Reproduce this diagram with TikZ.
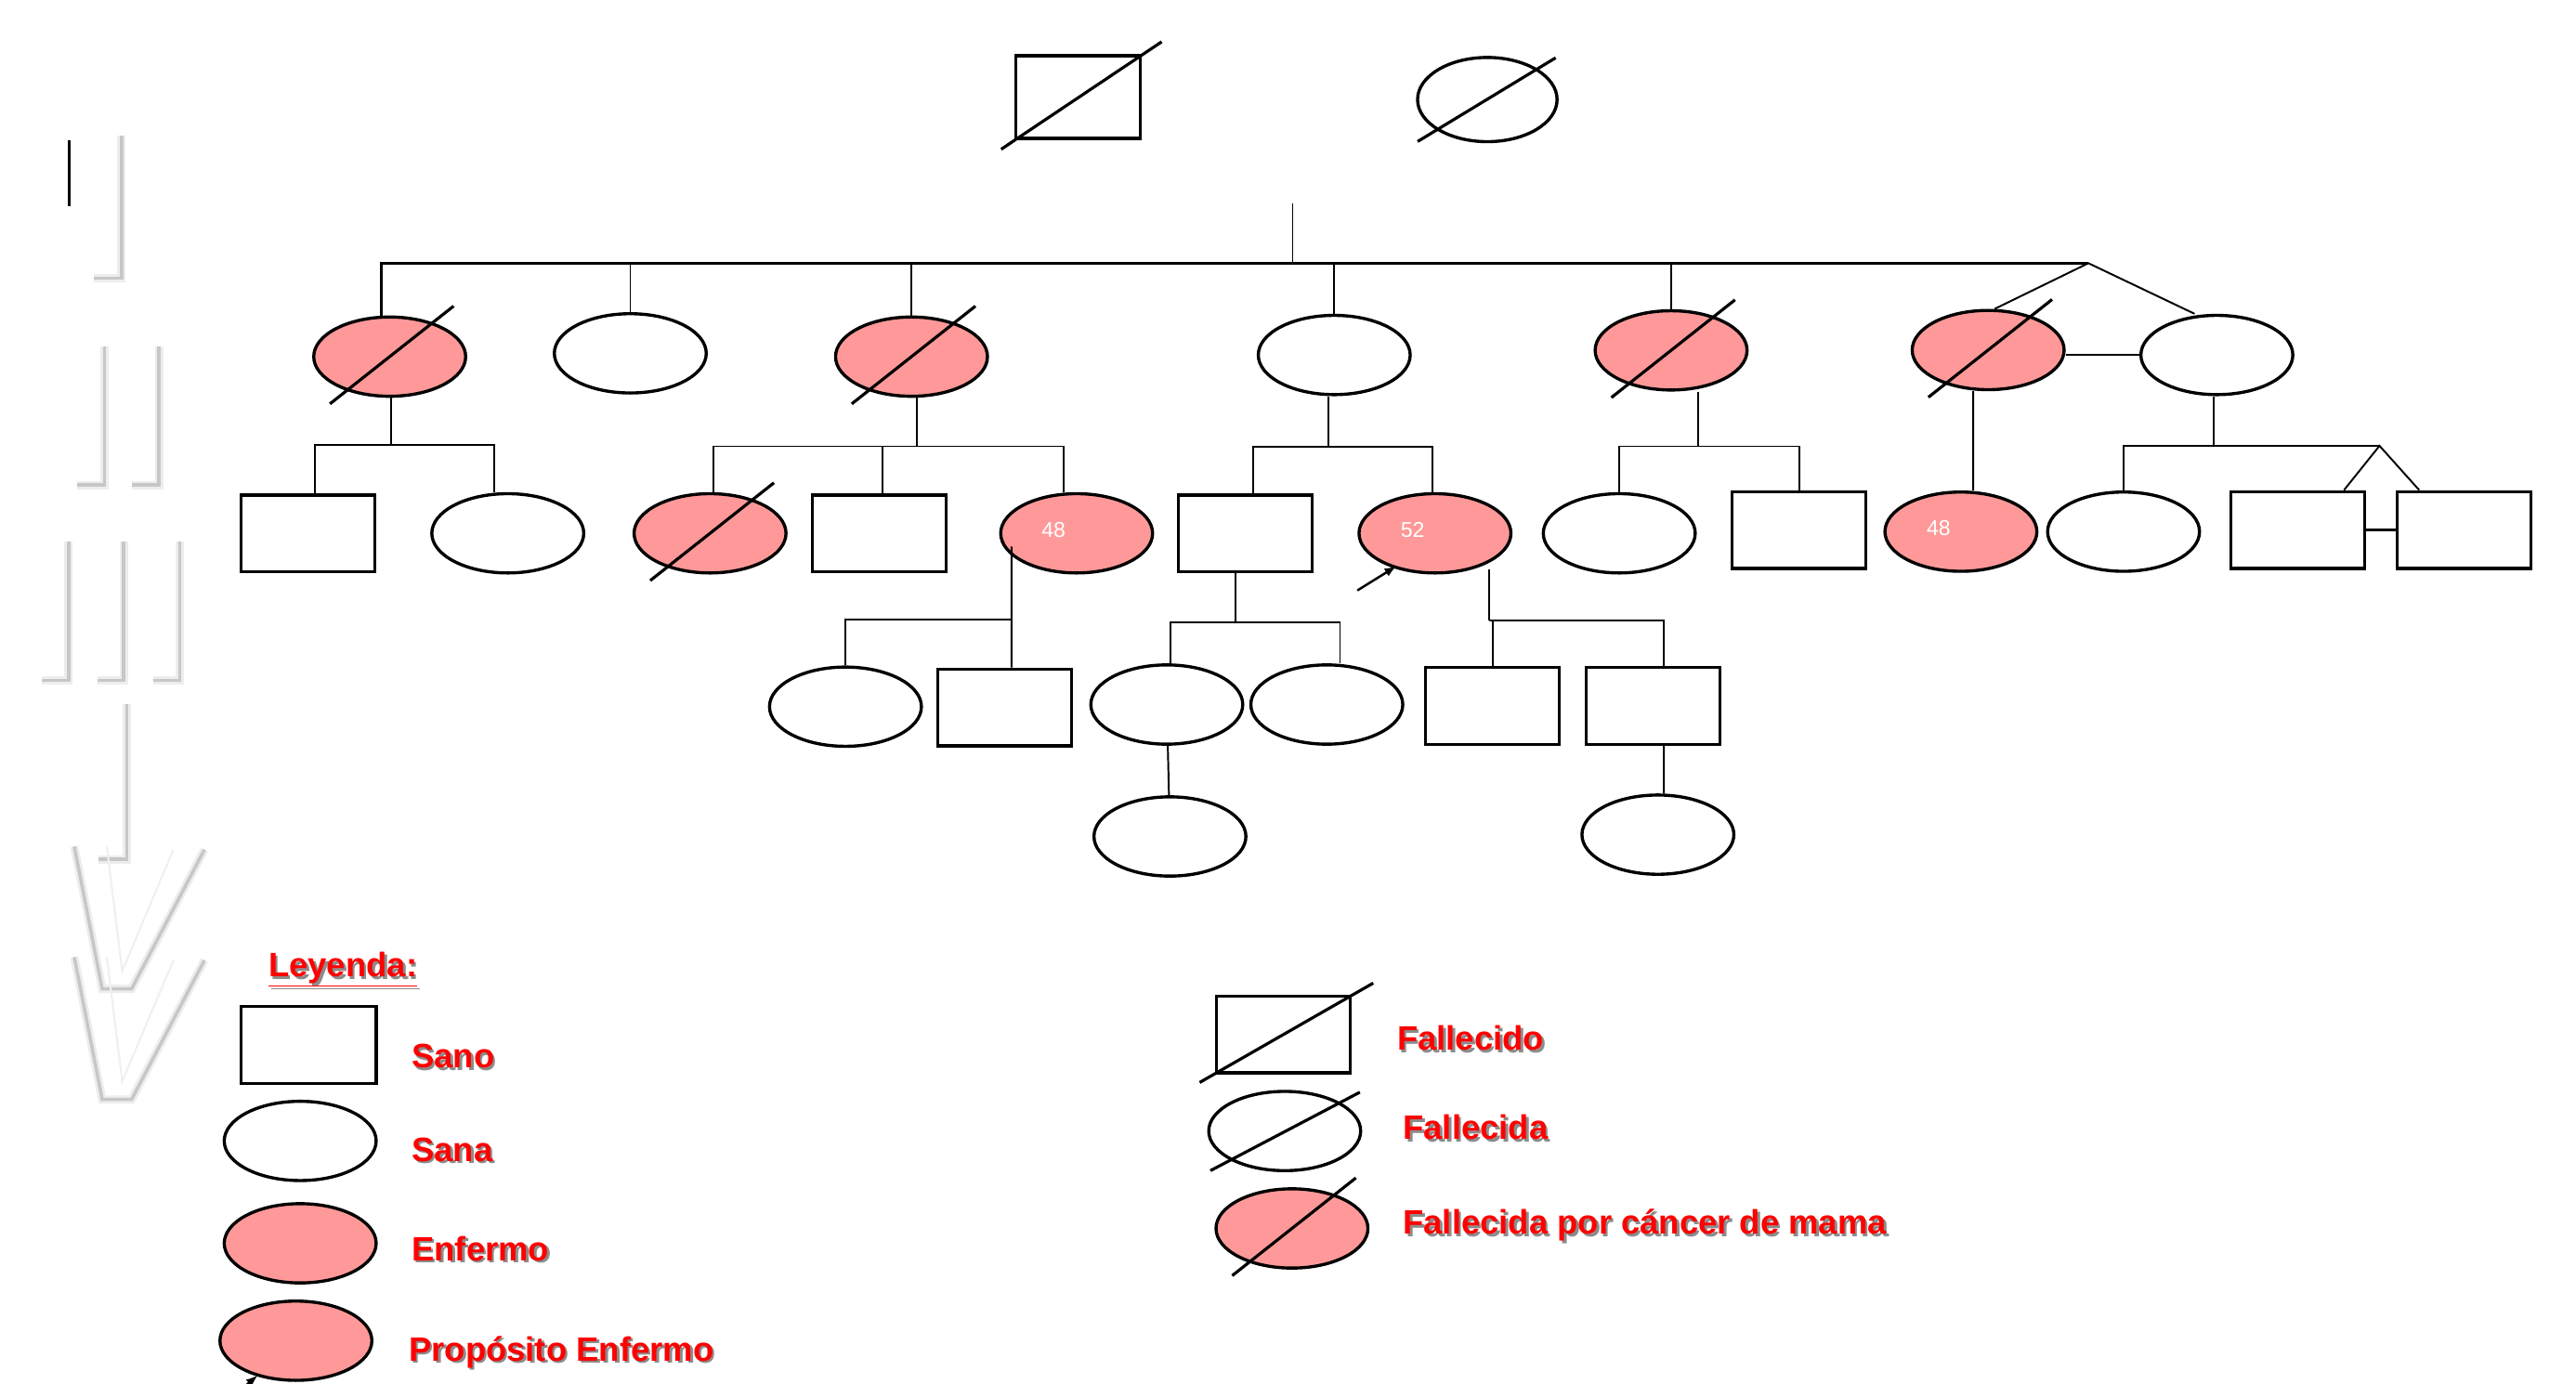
\documentclass[tikz,border=0pt]{standalone}
\usepackage{fontspec}
\setmainfont{Liberation Sans}
\usetikzlibrary{shapes.geometric}
\definecolor{enfermo}{RGB}{255,153,153}
\tikzset{
  sano/.style={draw, rectangle, line width=1.9bp, fill=white, inner sep=0pt, minimum width=81bp, minimum height=46.5bp},
  sana/.style={draw, ellipse, line width=1.9bp, fill=white, inner sep=0pt, minimum width=92bp, minimum height=48bp},
  enferma/.style={sana, fill=enfermo},
  linea/.style={line width=1.1bp},
  tacha/.style={line width=1.8bp},
  edad/.style={text=white, inner sep=0pt, font=\fontsize{13bp}{15bp}\selectfont},
  lbl/.style={anchor=base west, inner sep=0pt, text=red, font=\bfseries\fontsize{20.5bp}{24bp}\selectfont},
  sombra/.style={lbl, text=black!45},
  sombranum/.style={draw=black!22, line width=2bp, preaction={draw=black!7, line width=5bp}},
  sombrafina/.style={draw=black!6, line width=1.2bp},
}
\begin{document}
\begin{tikzpicture}[x=1bp,y=-1bp,>=latex]
\useasboundingbox (0,0) rectangle (1560,837.7);
%%
  % Generaciones: I, II, III, IV, V
  \draw[line width=1.6bp] (41.9,84.7) -- (41.9,124.9);
  \draw[sombranum] (73.6,82.4) -- (73.6,168.5) -- ++(-17,0);
  \foreach \x in {63.2,96.3}
    \draw[sombranum] (\x,210) -- (\x,293.7) -- ++(-16.5,0);
  \foreach \x in {41.5,74.9,108.9}
    \draw[sombranum] (\x,328) -- (\x,412) -- ++(-16,0);
  \draw[sombranum] (76.9,426.4) -- (76.9,520.4) -- ++(-17,0);
  \foreach \y in {0,67} {
    \draw[sombrafina] (64.7,512.7+\y) -- (74,588+\y) -- (105,514.6+\y);
    \draw[sombranum] (45,512.7+\y) -- (61.9,598.9+\y) -- (79.7,598.9+\y) -- (123.8,514.6+\y);
  }
  % Node: abuelo
  \node[sano, minimum width=75.6bp, minimum height=50bp] (abuelo) at (652.8,58.8) {};
  % Node: abuela
  \node[sana, minimum width=84.5bp, minimum height=51bp] (abuela) at (900.7,60.3) {};
  % Node: ii1 .. ii7
  \node[enferma] (ii1) at (236,216) {};
  \node[sana] (ii2) at (381.7,214) {};
  \node[enferma] (ii3) at (552,216) {};
  \node[sana] (ii4) at (808,215) {};
  \node[enferma] (ii5) at (1012,212.2) {};
  \node[enferma] (ii6) at (1204,212) {};
  \node[sana] (ii7) at (1342.5,215) {};
  % Node: iii1 .. iii13
  \node[sano] (iii1) at (186.5,323) {};
  \node[sana] (iii2) at (307.5,323) {};
  \node[enferma] (iii3) at (430,323) {};
  \node[sano] (iii4) at (532.6,323) {};
  \node[enferma] (iii5) at (652,323) {};
  \node[sano] (iii6) at (754,323) {};
  \node[enferma] (iii7) at (869,323) {};
  \node[sana] (iii8) at (980.6,323) {};
  \node[sano] (iii9) at (1089.5,321) {};
  \node[enferma] (iii10) at (1187.5,322) {};
  \node[sana] (iii11) at (1286,322) {};
  \node[sano] (iii12) at (1391.5,321) {};
  \node[sano] (iii13) at (1492.3,321) {};
  \node[edad] (edad5) at (638,321) {48};
  \node[edad] (edad7) at (855.5,321) {52};
  \node[edad] (edad10) at (1174,319.6) {48};
  % Node: iv1 .. iv6
  \node[sana] (iv1) at (512,428) {};
  \node[sano] (iv2) at (608.5,428.5) {};
  \node[sana] (iv3) at (706.6,426.7) {};
  \node[sana] (iv4) at (803.5,426.7) {};
  \node[sano] (iv5) at (903.8,427.5) {};
  \node[sano] (iv6) at (1001,427.5) {};
  % Node: v1, v2
  \node[sana] (v1) at (708.5,506.6) {};
  \node[sana] (v2) at (1004,505.5) {};
  % Node: leyenda
  \node[sano, minimum width=81.8bp, minimum height=47bp] (lsano) at (186.9,632.9) {};
  \node[sana] (lsana) at (181.8,691) {};
  \node[enferma] (lenfermo) at (181.8,753) {};
  \node[enferma] (lproposito) at (179.2,812) {};
  \node[sano] (lfallecido) at (777.3,626.5) {};
  \node[sana] (lfallecida) at (778,685) {};
  \node[enferma] (lcancer) at (782.4,744) {};
  \node[sombra] (tleyenda-s) at (164,593.1) {\underline{Leyenda:}};
  \node[lbl] (tleyenda) at (162.5,591.6) {\underline{Leyenda:}};
  \foreach \nm/\x/\y/\t in {tsano/249.2/646.6/Sano, tsana/249.2/703.2/Sana,
      tenfermo/249.2/763.5/Enfermo, tproposito/247.5/824.2/Propósito Enfermo,
      tfallecido/846/636/Fallecido, tfallecida/849.5/690/Fallecida,
      tcancer/849.5/747.3/Fallecida por cáncer de mama} {
    \node[sombra] (\nm-s) at (\x+1.5,\y+1.5) {\t};
    \node[lbl] (\nm) at (\x,\y) {\t};
  }
  % Tachados (fallecidos)
  \foreach \n in {ii1,ii3,ii5,ii6,iii3,lcancer}
    \draw[tacha] ([shift={(-36.2,28.6)}]\n.center) -- ([shift={(38.7,-30.6)}]\n.center);
  \draw[tacha] ([shift={(-46.5,31.6)}]abuelo.center) -- ([shift={(50.7,-33.5)}]abuelo.center);
  \draw[tacha] ([shift={(-42.2,25.4)}]abuela.center) -- ([shift={(41.4,-25.3)}]abuela.center);
  \draw[tacha] ([shift={(-50.8,29.1)}]lfallecido.center) -- ([shift={(54.3,-31.1)}]lfallecido.center);
  \draw[tacha] ([shift={(-45,24)}]lfallecida.center) -- ([shift={(45.5,-23.5)}]lfallecida.center);
  % Edge: abuelos -> ii1 .. ii7
  \coordinate (parejaI) at (782.8,123);
  \coordinate (gemelosII) at (1264.7,159.4);
  \draw[linea] (parejaI) -- (parejaI |- gemelosII);
  \draw[linea, line width=1.3bp] ([xshift=-5bp]ii1.north) |- (gemelosII);
  \foreach \n in {ii2,ii3,ii4,ii5}
    \draw[linea] (\n.north) -- (\n.north |- gemelosII);
  \draw[linea] ([xshift=4bp]ii6.north) -- (gemelosII) -- ([xshift=-13.5bp]ii7.north);
  % Edge: ii6 -- ii7
  \draw[linea, line width=1.4bp] (ii6.east |- ii7.west) -- (ii7.west);
  % Edge: ii1 -> iii1, iii2
  \coordinate (fIIIa) at (236.8,269.5);
  \draw[linea] (fIIIa |- ii1.south) -- (fIIIa);
  \draw[linea] ([xshift=4bp]iii1.north) |- (fIIIa) -| ([xshift=-8bp]iii2.north);
  % Edge: ii3 -> iii3, iii4, iii5
  \coordinate (fIIIb) at (555.5,270.3);
  \draw[linea] (fIIIb |- ii3.south) -- (fIIIb);
  \draw[linea] ([xshift=2bp]iii3.north) |- (fIIIb) -| ([xshift=-8bp]iii5.north);
  \draw[linea] ([xshift=2bp]iii4.north) |- (fIIIb);
  % Edge: ii4 -> iii6, iii7
  \coordinate (fIIIc) at (804.6,270.4);
  \draw[linea] (fIIIc |- ii4.south) -- (fIIIc);
  \draw[linea] ([xshift=5bp]iii6.north) |- (fIIIc) -| ([xshift=-1.3bp]iii7.north);
  \coordinate (flecha) at (822,357.6);
  \draw[->, line width=1.4bp] (flecha) -- ([shift={(-23.5,20)}]iii7.center);
  % Edge: ii5 -> iii8, iii9
  \coordinate (fIIIe) at (1028.5,270.3);
  \draw[linea] (fIIIe |- ii5.south) -- (fIIIe);
  \draw[linea] (iii8.north) |- (fIIIe) -| (iii9.north);
  % Edge: ii6 -> iii10
  \draw[linea] ([xshift=-9bp]ii6.south) -- ([xshift=7.5bp]iii10.north);
  % Edge: ii7 -> iii11, iii12, iii13
  \coordinate (fIIIg) at (1340.6,270);
  \coordinate (gemelosIII) at (1441,270);
  \draw[linea] (fIIIg |- ii7.south) -- (fIIIg);
  \draw[linea] (iii11.north) |- (gemelosIII);
  \draw[linea] ([xshift=28bp]iii12.north) -- (gemelosIII) -- ([xshift=-27.3bp]iii13.north);
  \draw[linea, line width=1.4bp] (iii12.east) -- (iii13.west);
  % Edge: iii5 -> iv1, iv2
  \coordinate (fIVa) at (612.6,375.3);
  \draw[linea] ([shift={(-39.4,8)}]iii5.center) -- ([xshift=4bp]iv2.north);
  \draw[linea] (iv1.north) |- (fIVa);
  % Edge: iii6 -> iv3, iv4
  \coordinate (fIVb) at (748,377);
  \draw[linea] (fIVb |- iii6.south) -- (fIVb);
  \draw[linea] ([xshift=2.4bp]iv3.north) |- (fIVb) -| ([xshift=8bp]iv4.north);
  % Edge: iii7 -> iv5, iv6
  \coordinate (fIVc) at (902,376);
  \draw[linea] ([shift={(33,22)}]iii7.center) -- (fIVc);
  \draw[linea] (iv5.north) |- (fIVc) -| ([xshift=6.6bp]iv6.north);
  % Edge: iv3 -> v1
  \draw[linea] (iv3) -- (v1);
  % Edge: iv6 -> v2
  \draw[linea] ([xshift=6.6bp]iv6.south) -- ([xshift=3.6bp]v2.north);
  % Edge: flecha leyenda -> lproposito
  \coordinate (flechaley) at (141,846);
  \draw[->, line width=1.4bp] (flechaley) -- ([shift={(-23.2,21)}]lproposito.center);
%
\end{tikzpicture}
\end{document}
